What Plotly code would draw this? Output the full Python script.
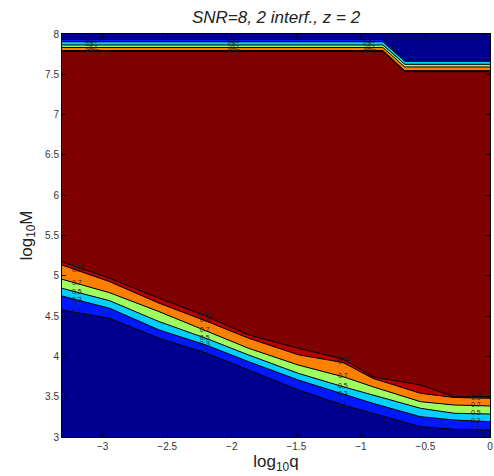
import numpy as np
import plotly.graph_objects as go

# ---- data (contour heights of log10 M vs log10 q) ----
levels = [0.1, 0.3, 0.5, 0.7, 0.9, 0.95]

# lower transition region
x_low = [-3.315, -2.946, -2.562, -2.2, -1.869, -1.485, -1.138, -0.908, -0.538, -0.277, 0.0]
low_01 = [4.576, 4.473, 4.225, 4.042, 3.831, 3.583, 3.397, 3.294, 3.128, 3.095, 3.087]
low_03 = [4.749, 4.597, 4.328, 4.141, 3.934, 3.707, 3.533, 3.418, 3.252, 3.211, 3.190]
low_05 = [4.845, 4.691, 4.431, 4.225, 4.017, 3.790, 3.624, 3.521, 3.356, 3.294, 3.285]
low_07 = [4.957, 4.790, 4.555, 4.315, 4.100, 3.893, 3.748, 3.624, 3.438, 3.397, 3.385]
low_09 = [5.134, 4.927, 4.659, 4.439, 4.225, 4.020, 3.924, 3.728, 3.542, 3.490, 3.480]
low_095 = [5.175, 4.969, 4.721, 4.501, 4.266, 4.100, 3.968, 3.748, 3.645, 3.500, 3.500]

# upper transition region
x_up = [-3.315, -0.83, -0.66, 0.0]
up_095 = [7.783, 7.783, 7.532, 7.532]
up_09 = [7.795, 7.795, 7.545, 7.545]
up_07 = [7.833, 7.833, 7.591, 7.591]
up_05 = [7.864, 7.864, 7.624, 7.624]
up_03 = [7.904, 7.904, 7.661, 7.661]
up_01 = [7.932, 7.932, 7.677, 7.677]

x_ticks = [-3, -2.5, -2, -1.5, -1, -0.5, 0]
y_ticks = [3, 3.5, 4, 4.5, 5, 5.5, 6, 6.5, 7, 7.5, 8]

# ---- colours (jet-like bands) ----
NAVY = "#00008f"
BLUE = "#0018ff"
CYAN = "#00cfff"
GREEN = "#a0ff60"
ORANGE = "#ff8000"
RED = "#b80000"
MAROON = "#800000"

fig = go.Figure()
line = dict(color="black", width=1)

lower = [low_01, low_03, low_05, low_07, low_09, low_095]
lower_fill = [None, BLUE, CYAN, GREEN, ORANGE, RED]
for ys, fc in zip(lower, lower_fill):
    fig.add_trace(go.Scatter(x=x_low, y=ys, mode="lines", line=line,
                             fill=None if fc is None else "tonexty",
                             fillcolor=fc, hoverinfo="skip", showlegend=False))

upper = [up_095, up_09, up_07, up_05, up_03, up_01]
upper_fill = [MAROON, RED, ORANGE, GREEN, CYAN, BLUE]
for ys, fc in zip(upper, upper_fill):
    fig.add_trace(go.Scatter(x=x_up, y=ys, mode="lines", line=line,
                             fill="tonexty", fillcolor=fc,
                             hoverinfo="skip", showlegend=False))

# contour labels placed on the lines
lab_names = ["0.1", "0.3", "0.5", "0.7", "0.9", "0.95"]
low_lab_x = [-3.2, -2.21, -1.14, -0.11]
for lx in low_lab_x:
    for name, ys in zip(lab_names, lower):
        fig.add_trace(go.Scatter(x=[lx], y=[float(np.interp(lx, x_low, ys))],
                                 mode="text", text=[name],
                                 textfont=dict(size=7, color="#202020", family="Liberation Sans"),
                                 hoverinfo="skip", showlegend=False))
up_lab_x = [-3.1, -2.0, -0.95]
for lx in up_lab_x:
    for k, (name, ys) in enumerate(zip(lab_names, upper[::-1])):
        px = lx + 0.025 * (k % 2)
        fig.add_trace(go.Scatter(x=[px], y=[float(np.interp(px, x_up, ys))],
                                 mode="text", text=[name],
                                 textfont=dict(size=6, color="#202020", family="Liberation Sans"),
                                 hoverinfo="skip", showlegend=False))

axis_common = dict(showline=True, linecolor="black", linewidth=1, mirror="ticks",
                   ticks="inside", ticklen=4, tickcolor="black", showgrid=False,
                   zeroline=False, ticklabeloverflow="allow",
                   tickfont=dict(family="Liberation Sans", size=10, color="#333333"))

fig.update_layout(
    width=494, height=476,
    margin=dict(l=62, r=1, t=34, b=39),
    paper_bgcolor="white",
    plot_bgcolor=NAVY,
    title=dict(text="<i>SNR=8, 2 interf., z = 2</i>", x=0.5, xref="paper",
               y=1 - 17 / 476, yref="container", yanchor="middle",
               font=dict(family="Liberation Sans", size=17, color="#222222")),
    xaxis=dict(range=[-3.315, 0], tickvals=x_ticks,
               title=dict(text="log<sub>10</sub>q", standoff=4,
                          font=dict(family="Liberation Sans", size=17, color="#222222")),
               **axis_common),
    yaxis=dict(range=[3, 8], tickvals=y_ticks,
               title=dict(text="log<sub>10</sub>M", standoff=8,
                          font=dict(family="Liberation Sans", size=17, color="#222222")),
               **axis_common),
)

fig.write_html("out.html")
